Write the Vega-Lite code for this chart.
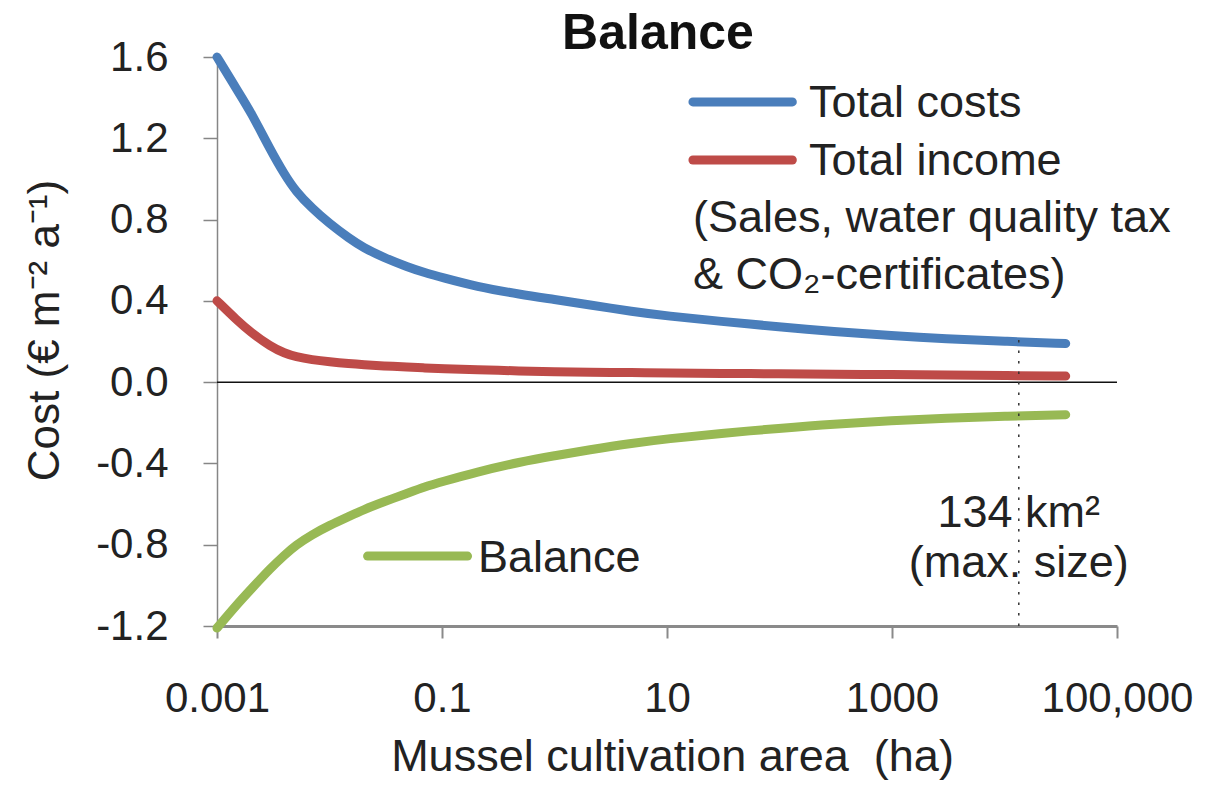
{
  "$schema": "https://vega.github.io/schema/vega-lite/v6.json",
  "width": 900,
  "height": 569,
  "autosize": "none",
  "padding": {"left": 217, "top": 57, "right": 97, "bottom": 162},
  "background": "white",
  "config": {"view": {"stroke": null}, "font": "Liberation Sans"},
  "title": {"text": "Balance", "fontSize": 50, "fontWeight": "bold", "color": "#111", "font": "Liberation Sans", "anchor": "middle", "frame": "group", "baseline": "alphabetic", "offset": -63, "dx": -9},
  "datasets": {
    "curves": [
      {"area": 0.001, "series": "Total costs", "value": 1.60},
      {"area": 0.0015, "series": "Total costs", "value": 1.44},
      {"area": 0.002, "series": "Total costs", "value": 1.33},
      {"area": 0.003, "series": "Total costs", "value": 1.14},
      {"area": 0.004, "series": "Total costs", "value": 1.02},
      {"area": 0.005, "series": "Total costs", "value": 0.94},
      {"area": 0.007, "series": "Total costs", "value": 0.855},
      {"area": 0.01, "series": "Total costs", "value": 0.78},
      {"area": 0.015, "series": "Total costs", "value": 0.707},
      {"area": 0.02, "series": "Total costs", "value": 0.662},
      {"area": 0.03, "series": "Total costs", "value": 0.614},
      {"area": 0.05, "series": "Total costs", "value": 0.566},
      {"area": 0.07, "series": "Total costs", "value": 0.539},
      {"area": 0.1, "series": "Total costs", "value": 0.515},
      {"area": 0.2, "series": "Total costs", "value": 0.471},
      {"area": 0.5, "series": "Total costs", "value": 0.431},
      {"area": 1, "series": "Total costs", "value": 0.407},
      {"area": 2, "series": "Total costs", "value": 0.381},
      {"area": 5, "series": "Total costs", "value": 0.347},
      {"area": 10, "series": "Total costs", "value": 0.326},
      {"area": 30, "series": "Total costs", "value": 0.299},
      {"area": 100, "series": "Total costs", "value": 0.272},
      {"area": 300, "series": "Total costs", "value": 0.249},
      {"area": 1000, "series": "Total costs", "value": 0.229},
      {"area": 3000, "series": "Total costs", "value": 0.213},
      {"area": 10000, "series": "Total costs", "value": 0.201},
      {"area": 35000, "series": "Total costs", "value": 0.19},
      {"area": 0.001, "series": "Total income", "value": 0.40},
      {"area": 0.0015, "series": "Total income", "value": 0.305},
      {"area": 0.002, "series": "Total income", "value": 0.245},
      {"area": 0.003, "series": "Total income", "value": 0.175},
      {"area": 0.004, "series": "Total income", "value": 0.142},
      {"area": 0.005, "series": "Total income", "value": 0.125},
      {"area": 0.007, "series": "Total income", "value": 0.11},
      {"area": 0.01, "series": "Total income", "value": 0.10},
      {"area": 0.015, "series": "Total income", "value": 0.091},
      {"area": 0.02, "series": "Total income", "value": 0.086},
      {"area": 0.03, "series": "Total income", "value": 0.08},
      {"area": 0.05, "series": "Total income", "value": 0.074},
      {"area": 0.07, "series": "Total income", "value": 0.07},
      {"area": 0.1, "series": "Total income", "value": 0.067},
      {"area": 0.2, "series": "Total income", "value": 0.061},
      {"area": 0.5, "series": "Total income", "value": 0.055},
      {"area": 1, "series": "Total income", "value": 0.051},
      {"area": 2, "series": "Total income", "value": 0.049},
      {"area": 5, "series": "Total income", "value": 0.047},
      {"area": 10, "series": "Total income", "value": 0.045},
      {"area": 30, "series": "Total income", "value": 0.043},
      {"area": 100, "series": "Total income", "value": 0.041},
      {"area": 300, "series": "Total income", "value": 0.039},
      {"area": 1000, "series": "Total income", "value": 0.037},
      {"area": 3000, "series": "Total income", "value": 0.035},
      {"area": 10000, "series": "Total income", "value": 0.032},
      {"area": 35000, "series": "Total income", "value": 0.03},
      {"area": 0.001, "series": "Balance", "value": -1.21},
      {"area": 0.0015, "series": "Balance", "value": -1.095},
      {"area": 0.002, "series": "Balance", "value": -1.02},
      {"area": 0.003, "series": "Balance", "value": -0.915},
      {"area": 0.004, "series": "Balance", "value": -0.85},
      {"area": 0.005, "series": "Balance", "value": -0.803},
      {"area": 0.007, "series": "Balance", "value": -0.75},
      {"area": 0.01, "series": "Balance", "value": -0.705},
      {"area": 0.015, "series": "Balance", "value": -0.66},
      {"area": 0.02, "series": "Balance", "value": -0.628},
      {"area": 0.03, "series": "Balance", "value": -0.59},
      {"area": 0.05, "series": "Balance", "value": -0.545},
      {"area": 0.07, "series": "Balance", "value": -0.515},
      {"area": 0.1, "series": "Balance", "value": -0.49},
      {"area": 0.2, "series": "Balance", "value": -0.443},
      {"area": 0.5, "series": "Balance", "value": -0.392},
      {"area": 1, "series": "Balance", "value": -0.362},
      {"area": 2, "series": "Balance", "value": -0.334},
      {"area": 5, "series": "Balance", "value": -0.3},
      {"area": 10, "series": "Balance", "value": -0.279},
      {"area": 30, "series": "Balance", "value": -0.252},
      {"area": 100, "series": "Balance", "value": -0.227},
      {"area": 300, "series": "Balance", "value": -0.206},
      {"area": 1000, "series": "Balance", "value": -0.19},
      {"area": 3000, "series": "Balance", "value": -0.177},
      {"area": 10000, "series": "Balance", "value": -0.168},
      {"area": 35000, "series": "Balance", "value": -0.16}
    ]
  },
  "layer": [
    {
      "data": {"values": [{}]},
      "mark": {"type": "rule", "color": "#111", "strokeWidth": 1.5},
      "encoding": {"y": {"datum": 0, "scale": {"domain": [-1.2, 1.6], "nice": false, "zero": false}}}
    },
    {
      "data": {"name": "curves"},
      "mark": {"type": "line", "strokeWidth": 9, "strokeCap": "round", "strokeJoin": "round", "interpolate": "basis"},
      "encoding": {
        "x": {
          "field": "area", "type": "quantitative",
          "scale": {"type": "log", "domain": [0.001, 100000], "nice": false},
          "axis": {
            "title": "Mussel cultivation area \u00a0(ha)",
            "values": [0.001, 0.1, 10, 1000, 100000],
            "labelExpr": "datum.value >= 100000 ? '100,000' : datum.value >= 1000 ? '1000' : datum.value >= 10 ? '10' : datum.value >= 0.1 ? '0.1' : '0.001'",
            "labelFontSize": 42, "labelFont": "Liberation Sans", "labelColor": "#222",
            "labelPadding": 40, "labelFlush": false, "labelOverlap": false,
            "tickSize": 12, "tickColor": "#8a8a8a", "tickWidth": 2,
            "domainColor": "#8a8a8a", "domainWidth": 3, "grid": false,
            "titleFontSize": 45, "titleFont": "Liberation Sans", "titleFontWeight": "normal", "titleColor": "#222",
            "titleX": 455, "titleY": 144, "titleBaseline": "alphabetic", "titleAlign": "center"
          }
        },
        "y": {
          "field": "value", "type": "quantitative",
          "scale": {"domain": [-1.2, 1.6], "nice": false, "zero": false},
          "axis": {
            "title": "Cost (€ m⁻² a⁻¹)",
            "values": [-1.2, -0.8, -0.4, 0, 0.4, 0.8, 1.2, 1.6],
            "labelExpr": "replace(format(datum.value, '.1f'), '−', '-')",
            "labelFontSize": 42, "labelFont": "Liberation Sans", "labelColor": "#222",
            "labelPadding": 35, "labelFlush": false, "labelOverlap": false,
            "tickSize": 14, "tickColor": "#868686", "tickWidth": 1.5,
            "domainColor": "#868686", "domainWidth": 1.5, "grid": false,
            "titleFontSize": 44, "titleFont": "Liberation Sans", "titleFontWeight": "normal", "titleColor": "#222",
            "titleX": -159, "titleY": 273, "titleAngle": -90, "titleBaseline": "alphabetic", "titleAlign": "center"
          }
        },
        "color": {
          "field": "series", "type": "nominal",
          "scale": {"domain": ["Total costs", "Total income", "Balance"], "range": ["#4A7EBB", "#BE4B48", "#98B954"]},
          "legend": null
        }
      }
    },
    {
      "data": {"values": [{}]},
      "mark": {"type": "rule", "color": "#333", "strokeWidth": 1.5, "strokeDash": [2.5, 8]},
      "encoding": {"x": {"datum": 13400}, "y": {"datum": -1.2}, "y2": {"datum": 0.22}}
    },
    {
      "data": {"values": [{}]},
      "mark": {"type": "rule", "color": "#4A7EBB", "strokeWidth": 9, "strokeCap": "round"},
      "encoding": {"x": {"datum": 17}, "x2": {"datum": 130}, "y": {"datum": 1.379}}
    },
    {
      "data": {"values": [{}]},
      "mark": {"type": "rule", "color": "#BE4B48", "strokeWidth": 9, "strokeCap": "round"},
      "encoding": {"x": {"datum": 17}, "x2": {"datum": 130}, "y": {"datum": 1.093}}
    },
    {
      "data": {"values": [{}]},
      "mark": {"type": "rule", "color": "#98B954", "strokeWidth": 9, "strokeCap": "round"},
      "encoding": {"x": {"datum": 0.0218}, "x2": {"datum": 0.1687}, "y": {"datum": -0.856}}
    },
    {
      "data": {"values": [{}]},
      "mark": {"type": "text", "text": "Total costs", "align": "left", "baseline": "alphabetic", "fontSize": 45, "font": "Liberation Sans", "color": "#222"},
      "encoding": {"x": {"datum": 183}, "y": {"datum": 1.305}}
    },
    {
      "data": {"values": [{}]},
      "mark": {"type": "text", "text": "Total income", "align": "left", "baseline": "alphabetic", "fontSize": 45, "font": "Liberation Sans", "color": "#222"},
      "encoding": {"x": {"datum": 183}, "y": {"datum": 1.019}}
    },
    {
      "data": {"values": [{}]},
      "mark": {"type": "text", "text": "(Sales, water quality tax", "align": "left", "baseline": "alphabetic", "fontSize": 45, "font": "Liberation Sans", "color": "#222"},
      "encoding": {"x": {"datum": 17}, "y": {"datum": 0.739}}
    },
    {
      "data": {"values": [{}]},
      "mark": {"type": "text", "text": "& CO₂-certificates)", "align": "left", "baseline": "alphabetic", "fontSize": 45, "font": "Liberation Sans", "color": "#222"},
      "encoding": {"x": {"datum": 17}, "y": {"datum": 0.458}}
    },
    {
      "data": {"values": [{}]},
      "mark": {"type": "text", "text": "Balance", "align": "left", "baseline": "alphabetic", "fontSize": 45, "font": "Liberation Sans", "color": "#222"},
      "encoding": {"x": {"datum": 0.209}, "y": {"datum": -0.934}}
    },
    {
      "data": {"values": [{}]},
      "mark": {"type": "text", "text": "134 km²", "align": "center", "baseline": "alphabetic", "fontSize": 45, "font": "Liberation Sans", "color": "#222"},
      "encoding": {"x": {"datum": 13400}, "y": {"datum": -0.713}}
    },
    {
      "data": {"values": [{}]},
      "mark": {"type": "text", "text": "(max. size)", "align": "center", "baseline": "alphabetic", "fontSize": 45, "font": "Liberation Sans", "color": "#222"},
      "encoding": {"x": {"datum": 13400}, "y": {"datum": -0.959}}
    }
  ]
}
